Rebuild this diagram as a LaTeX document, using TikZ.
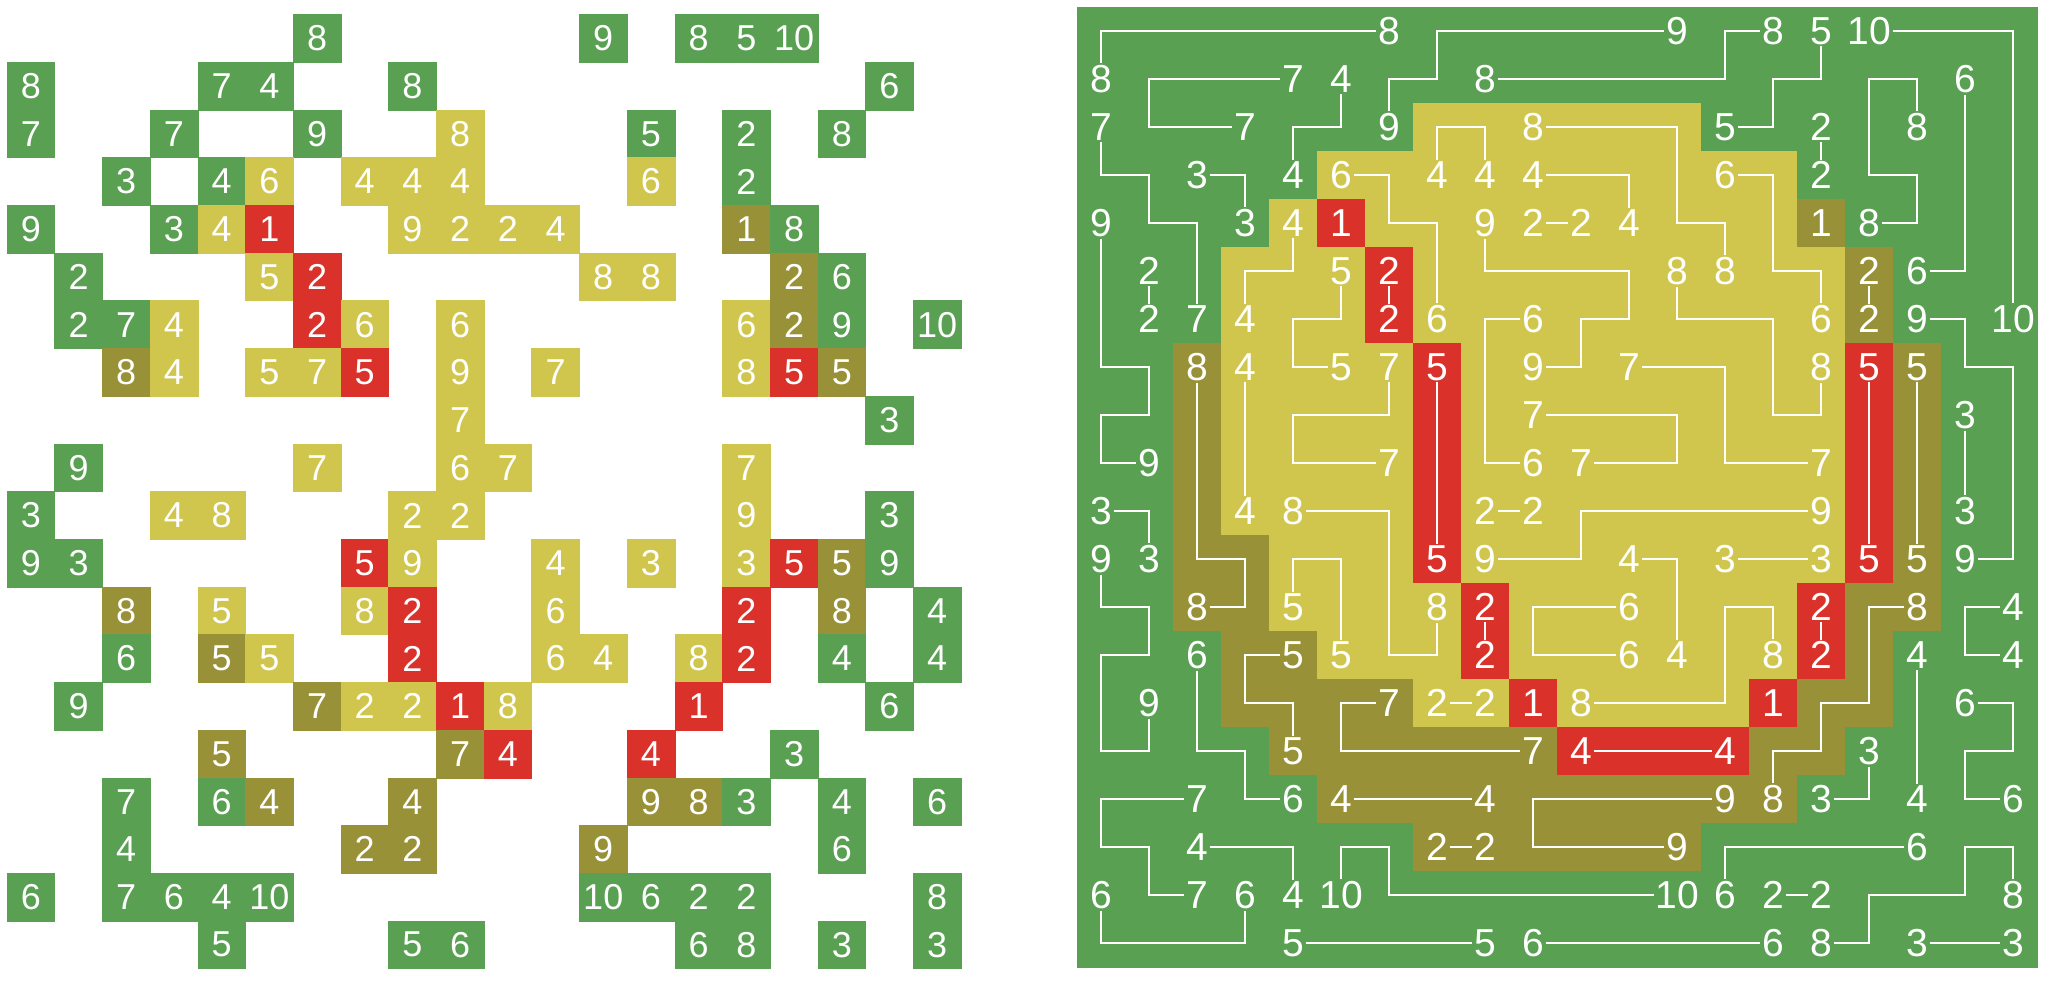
\documentclass[tikz,border=0pt]{standalone}
\usepackage{fontspec}
\setmainfont{Liberation Sans}
\definecolor{cG}{HTML}{59A052}
\definecolor{cO}{HTML}{989137}
\definecolor{cY}{HTML}{D1C64D}
\definecolor{cR}{HTML}{DA312A}
\def\clues{0/6/8/G, 0/12/9/G, 0/14/8/G, 0/15/5/G, 0/16/10/G,
1/0/8/G, 1/4/7/G, 1/5/4/G, 1/8/8/G, 1/18/6/G,
2/0/7/G, 2/3/7/G, 2/6/9/G, 2/9/8/Y, 2/13/5/G, 2/15/2/G, 2/17/8/G,
3/2/3/G, 3/4/4/G, 3/5/6/Y, 3/7/4/Y, 3/8/4/Y, 3/9/4/Y, 3/13/6/Y, 3/15/2/G,
4/0/9/G, 4/3/3/G, 4/4/4/Y, 4/5/1/R, 4/8/9/Y, 4/9/2/Y, 4/10/2/Y, 4/11/4/Y, 4/15/1/O, 4/16/8/G,
5/1/2/G, 5/5/5/Y, 5/6/2/R, 5/12/8/Y, 5/13/8/Y, 5/16/2/O, 5/17/6/G,
6/1/2/G, 6/2/7/G, 6/3/4/Y, 6/6/2/R, 6/7/6/Y, 6/9/6/Y, 6/15/6/Y, 6/16/2/O, 6/17/9/G, 6/19/10/G,
7/2/8/O, 7/3/4/Y, 7/5/5/Y, 7/6/7/Y, 7/7/5/R, 7/9/9/Y, 7/11/7/Y, 7/15/8/Y, 7/16/5/R, 7/17/5/O,
8/9/7/Y, 8/18/3/G,
9/1/9/G, 9/6/7/Y, 9/9/6/Y, 9/10/7/Y, 9/15/7/Y,
10/0/3/G, 10/3/4/Y, 10/4/8/Y, 10/8/2/Y, 10/9/2/Y, 10/15/9/Y, 10/18/3/G,
11/0/9/G, 11/1/3/G, 11/7/5/R, 11/8/9/Y, 11/11/4/Y, 11/13/3/Y, 11/15/3/Y, 11/16/5/R, 11/17/5/O, 11/18/9/G,
12/2/8/O, 12/4/5/Y, 12/7/8/Y, 12/8/2/R, 12/11/6/Y, 12/15/2/R, 12/17/8/O, 12/19/4/G,
13/2/6/G, 13/4/5/O, 13/5/5/Y, 13/8/2/R, 13/11/6/Y, 13/12/4/Y, 13/14/8/Y, 13/15/2/R, 13/17/4/G, 13/19/4/G,
14/1/9/G, 14/6/7/O, 14/7/2/Y, 14/8/2/Y, 14/9/1/R, 14/10/8/Y, 14/14/1/R, 14/18/6/G,
15/4/5/O, 15/9/7/O, 15/10/4/R, 15/13/4/R, 15/16/3/G,
16/2/7/G, 16/4/6/G, 16/5/4/O, 16/8/4/O, 16/13/9/O, 16/14/8/O, 16/15/3/G, 16/17/4/G, 16/19/6/G,
17/2/4/G, 17/7/2/O, 17/8/2/O, 17/12/9/O, 17/17/6/G,
18/0/6/G, 18/2/7/G, 18/3/6/G, 18/4/4/G, 18/5/10/G, 18/12/10/G, 18/13/6/G, 18/14/2/G, 18/15/2/G, 18/19/8/G,
19/4/5/G, 19/8/5/G, 19/9/6/G, 19/14/6/G, 19/15/8/G, 19/17/3/G, 19/19/3/G}
\begin{document}
\begin{tikzpicture}[x=0.5pt,y=-0.5pt,
  lnum/.style={text=white,font=\fontsize{18}{18}\selectfont,inner sep=0pt},
  rnum/.style={text=white,font=\fontsize{19.5}{19.5}\selectfont,inner sep=0.7pt},
  link/.style={draw=white,line width=0.7pt},
  cellbox/.style={fill=#1,draw=#1,line width=0.3pt}]
\useasboundingbox (0,0) rectangle (2064,994);
% ---------- left grid: clue cells only
\foreach \rr/\cc/\vv/\kk in \clues {
  \path[cellbox=c\kk] ({7+47.7*\cc},{14.6+47.7*\rr}) rectangle ++(47.7,47.7);
  \node[lnum] (L\rr-\cc) at ({30.85+47.7*\cc},{38.45+47.7*\rr}) {\vv};
}
% ---------- right grid: solved picture
\foreach \rowcols [count=\rr from 0] in {
{G,G,G,G,G,G,G,G,G,G,G,G,G,G,G,G,G,G,G,G},
{G,G,G,G,G,G,G,G,G,G,G,G,G,G,G,G,G,G,G,G},
{G,G,G,G,G,G,G,Y,Y,Y,Y,Y,Y,G,G,G,G,G,G,G},
{G,G,G,G,G,Y,Y,Y,Y,Y,Y,Y,Y,Y,Y,G,G,G,G,G},
{G,G,G,G,Y,R,Y,Y,Y,Y,Y,Y,Y,Y,Y,O,G,G,G,G},
{G,G,G,Y,Y,Y,R,Y,Y,Y,Y,Y,Y,Y,Y,Y,O,G,G,G},
{G,G,G,Y,Y,Y,R,Y,Y,Y,Y,Y,Y,Y,Y,Y,O,G,G,G},
{G,G,O,Y,Y,Y,Y,R,Y,Y,Y,Y,Y,Y,Y,Y,R,O,G,G},
{G,G,O,Y,Y,Y,Y,R,Y,Y,Y,Y,Y,Y,Y,Y,R,O,G,G},
{G,G,O,Y,Y,Y,Y,R,Y,Y,Y,Y,Y,Y,Y,Y,R,O,G,G},
{G,G,O,Y,Y,Y,Y,R,Y,Y,Y,Y,Y,Y,Y,Y,R,O,G,G},
{G,G,O,O,Y,Y,Y,R,Y,Y,Y,Y,Y,Y,Y,Y,R,O,G,G},
{G,G,O,O,Y,Y,Y,Y,R,Y,Y,Y,Y,Y,Y,R,O,O,G,G},
{G,G,G,O,O,Y,Y,Y,R,Y,Y,Y,Y,Y,Y,R,O,G,G,G},
{G,G,G,O,O,O,O,Y,Y,R,Y,Y,Y,Y,R,O,O,G,G,G},
{G,G,G,G,O,O,O,O,O,O,R,R,R,R,O,O,G,G,G,G},
{G,G,G,G,G,O,O,O,O,O,O,O,O,O,O,G,G,G,G,G},
{G,G,G,G,G,G,G,O,O,O,O,O,O,G,G,G,G,G,G,G},
{G,G,G,G,G,G,G,G,G,G,G,G,G,G,G,G,G,G,G,G},
{G,G,G,G,G,G,G,G,G,G,G,G,G,G,G,G,G,G,G,G}} {
  \foreach \kk [count=\cc from 0] in \rowcols {
    \path[cellbox=c\kk] ({1077+48*\cc},{7+48*\rr}) rectangle ++(48,48);
    \coordinate (P\rr-\cc) at ({1101+48*\cc},{31+48*\rr});
  }
}
\foreach \rr/\cc/\vv/\kk in \clues {
  \node[rnum] (R\rr-\cc) at (P\rr-\cc) {\vv};
}
% ---------- links
\draw[link] (R0-6) -- (P0-0) -- (R1-0);
\draw[link] (R2-6) -- (P1-6) -- (P1-7) -- (P0-7) -- (R0-12);
\draw[link] (R1-8) -- (P1-13) -- (P0-13) -- (R0-14);
\draw[link] (R0-15) -- (P1-15) -- (P1-14) -- (P2-14) -- (R2-13);
\draw[link] (R0-16) -- (P0-19) -- (R6-19);
\draw[link] (R1-18) -- (P5-18) -- (R5-17);
\draw[link] (R2-17) -- (P1-17) -- (P1-16) -- (P3-16) -- (P3-17) -- (P4-17) -- (R4-16);
\draw[link] (R2-15) -- (R3-15);
\draw[link] (R5-16) -- (R6-16);
\draw[link] (R6-17) -- (P6-18) -- (P7-18) -- (P7-19) -- (P11-19) -- (R11-18);
\draw[link] (R8-18) -- (R10-18);
\draw[link] (R7-16) -- (R11-16);
\draw[link] (R7-17) -- (R11-17);
\draw[link] (R3-13) -- (P3-14) -- (P5-14) -- (P5-15) -- (R6-15);
\draw[link] (R5-12) -- (P6-12) -- (P6-14) -- (P8-14) -- (P8-15) -- (R7-15);
\draw[link] (R2-9) -- (P2-12) -- (P4-12) -- (P4-13) -- (R5-13);
\draw[link] (R3-9) -- (P3-11) -- (R4-11);
\draw[link] (R4-9) -- (R4-10);
\draw[link] (R4-8) -- (P5-8) -- (P5-11) -- (P6-11) -- (P6-10) -- (P7-10) -- (R7-9);
\draw[link] (R7-11) -- (P7-13) -- (P9-13) -- (R9-15);
\draw[link] (R8-9) -- (P8-12) -- (P9-12) -- (R9-10);
\draw[link] (R6-9) -- (P6-8) -- (P9-8) -- (R9-9);
\draw[link] (R3-7) -- (P2-7) -- (P2-8) -- (R3-8);
\draw[link] (R3-5) -- (P3-6) -- (P4-6) -- (P4-7) -- (R6-7);
\draw[link] (R5-6) -- (R6-6);
\draw[link] (R7-7) -- (R11-7);
\draw[link] (R5-5) -- (P6-5) -- (P6-4) -- (P7-4) -- (R7-5);
\draw[link] (R7-6) -- (P8-6) -- (P8-4) -- (P9-4) -- (R9-6);
\draw[link] (R4-4) -- (P5-4) -- (P5-3) -- (R6-3);
\draw[link] (R3-4) -- (P2-4) -- (P2-5) -- (R1-5);
\draw[link] (R1-4) -- (P1-1) -- (P2-1) -- (R2-3);
\draw[link] (R3-2) -- (P3-3) -- (R4-3);
\draw[link] (R2-0) -- (P3-0) -- (P3-1) -- (P4-1) -- (P4-2) -- (R6-2);
\draw[link] (R5-1) -- (R6-1);
\draw[link] (R4-0) -- (P7-0) -- (P7-1) -- (P8-1) -- (P8-0) -- (P9-0) -- (R9-1);
\draw[link] (R7-2) -- (P11-2) -- (P11-3) -- (P12-3) -- (R12-2);
\draw[link] (R7-3) -- (R10-3);
\draw[link] (R10-0) -- (P10-1) -- (R11-1);
\draw[link] (R11-0) -- (P12-0) -- (P12-1) -- (P13-1) -- (P13-0) -- (P15-0) -- (P15-1) -- (R14-1);
\draw[link] (R10-4) -- (P10-6) -- (P13-6) -- (P13-7) -- (R12-7);
\draw[link] (R12-4) -- (P11-4) -- (P11-5) -- (R13-5);
\draw[link] (R13-4) -- (P13-3) -- (P14-3) -- (P14-4) -- (R15-4);
\draw[link] (R13-2) -- (P15-2) -- (P15-3) -- (P16-3) -- (R16-4);
\draw[link] (R14-6) -- (P14-5) -- (P15-5) -- (R15-9);
\draw[link] (R14-7) -- (R14-8);
\draw[link] (R10-8) -- (R10-9);
\draw[link] (R11-8) -- (P11-10) -- (P10-10) -- (R10-15);
\draw[link] (R12-8) -- (R13-8);
\draw[link] (R16-5) -- (R16-8);
\draw[link] (R17-7) -- (R17-8);
\draw[link] (R16-2) -- (P16-0) -- (P17-0) -- (P17-1) -- (P18-1) -- (R18-2);
\draw[link] (R17-2) -- (P17-4) -- (R18-4);
\draw[link] (R18-0) -- (P19-0) -- (P19-3) -- (R18-3);
\draw[link] (R18-5) -- (P17-5) -- (P17-6) -- (P18-6) -- (R18-12);
\draw[link] (R19-4) -- (R19-8);
\draw[link] (R19-9) -- (R19-14);
\draw[link] (R14-10) -- (P14-13) -- (P12-13) -- (P12-14) -- (R13-14);
\draw[link] (R12-11) -- (P12-9) -- (P13-9) -- (R13-11);
\draw[link] (R16-13) -- (P16-9) -- (P17-9) -- (R17-12);
\draw[link] (R15-10) -- (R15-13);
\draw[link] (R11-11) -- (P11-12) -- (R13-12);
\draw[link] (R11-13) -- (R11-15);
\draw[link] (R12-15) -- (R13-15);
\draw[link] (R12-17) -- (P12-16) -- (P14-16) -- (P14-15) -- (P15-15) -- (P15-14) -- (R16-14);
\draw[link] (R12-19) -- (P12-18) -- (P13-18) -- (R13-19);
\draw[link] (R13-17) -- (R16-17);
\draw[link] (R14-18) -- (P14-19) -- (P15-19) -- (P15-18) -- (P16-18) -- (R16-19);
\draw[link] (R15-16) -- (P16-16) -- (R16-15);
\draw[link] (R17-17) -- (P17-13) -- (R18-13);
\draw[link] (R18-14) -- (R18-15);
\draw[link] (R18-19) -- (P17-19) -- (P17-18) -- (P18-18) -- (P18-16) -- (P19-16) -- (R19-15);
\draw[link] (R19-17) -- (R19-19);
\end{tikzpicture}
\end{document}
